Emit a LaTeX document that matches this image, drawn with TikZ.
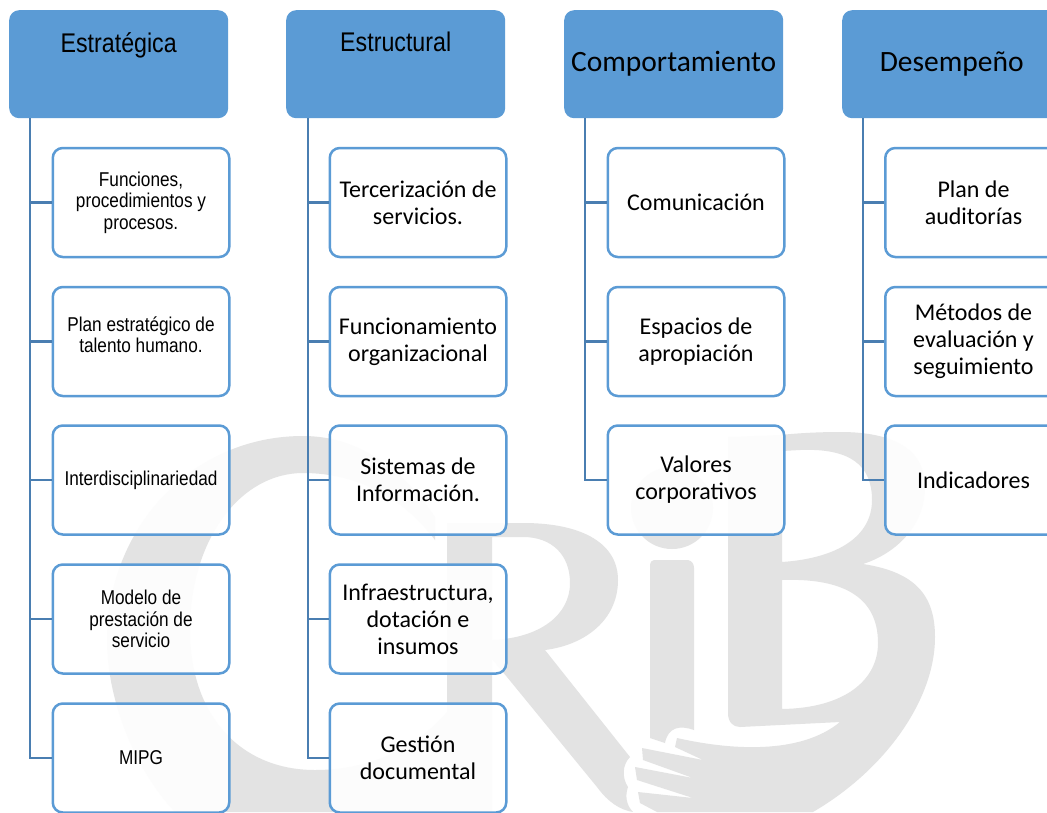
\documentclass[tikz,border=0pt]{standalone}
\usepackage{fontspec}
\setmainfont{Liberation Sans}
\newfontfamily\narrowf[FakeStretch=0.86]{Liberation Sans}
\newfontfamily\calibf{Carlito}
\definecolor{hdrblue}{HTML}{5B9BD5}
\definecolor{linkblue}{HTML}{4A7EB1}
\definecolor{wmgray}{HTML}{E3E3E3}
\newcommand{\lifted}[2]{\smash{\raisebox{#1}{#2}}}
\tikzset{
  hdrbox/.style={rectangle,rounded corners=10pt,fill=hdrblue,draw=none,minimum width=219pt,minimum height=108pt,inner sep=0pt,align=center,anchor=north west,text=black},
  kidbox/.style={rectangle,rounded corners=10pt,draw=hdrblue,line width=2.5pt,fill=white,fill opacity=.9,text opacity=1,minimum width=176.5pt,minimum height=109pt,inner sep=0pt,align=center,text=black},
  arialsmall/.style={font=\narrowf\fontsize{20}{21.5}\selectfont},
  calibsmall/.style={font=\calibf\fontsize{24}{27}\selectfont},
  arialbig/.style={font=\narrowf\fontsize{27}{30}\selectfont},
  calibbig/.style={font=\calibf\fontsize{29.5}{34}\selectfont},
  conn/.style={draw=linkblue,line width=2.5pt},
  wm/.style={fill=wmgray,even odd rule}
}
\begin{document}
\begin{tikzpicture}[x=1pt,y=-1pt]
\useasboundingbox (0,0) rectangle (1047,812);
\clip (0,0) rectangle (1047,812);
\fill[white] (0,0) rectangle (1047,812);
% watermark: C
\fill[wm] (435,517) .. controls (400,465) and (355,436) .. (303,436)
  .. controls (190,436) and (107,530) .. (107,640)
  .. controls (107,700) and (135,770) .. (175,812)
  -- (447,812) -- (447,712)
  .. controls (410,755) and (360,770) .. (315,770)
  .. controls (240,770) and (190,715) .. (190,630)
  .. controls (190,540) and (240,473) .. (303,473)
  .. controls (360,473) and (405,500) .. (435,540) -- cycle;
% watermark: R
\fill[wm] (447,523) -- (523,523)
  .. controls (585,523) and (618,545) .. (618,580)
  .. controls (618,620) and (585,645) .. (545,650)
  -- (630,757)
  .. controls (622,765) and (622,778) .. (628,787)
  .. controls (625,795) and (626,805) .. (633,812)
  .. controls (620,810) and (608,802) .. (597,787)
  -- (507,677) -- (492,659) -- (492,812) -- (447,812) -- cycle
  (492,537) -- (523,537)
  .. controls (552,537) and (570,555) .. (570,583)
  .. controls (570,615) and (540,638) .. (492,640) -- cycle;
% watermark: i
\fill[wm] (672,508) circle[radius=41pt];
\fill[wm] (654,560) -- (688,560) .. controls (692,561) and (694,564) .. (694,568) -- (694,730)
  .. controls (680,725) and (668,727) .. (665,743) -- (650,738) -- (650,566) .. controls (650,562) and (652,560) .. (654,560) -- cycle;
% watermark: B and hand
\fill[wm] (728,437) -- (780,435)
  .. controls (800,433) and (820,432) .. (840,432)
  .. controls (895,432) and (925,450) .. (925,487)
  .. controls (925,525) and (897,553) .. (863,564)
  .. controls (915,572) and (935,595) .. (935,637)
  .. controls (935,700) and (885,770) .. (813,812)
  -- (657,812) -- (640,803) -- (638,792) -- (693,798) -- (637,780) -- (635,767) -- (693,778) -- (643,760) -- (642,748) -- (703,760) -- (675,747) -- (677,738)
  .. controls (730,750) and (800,755) .. (840,722)
  -- (740,727) .. controls (733,727) and (728,722) .. (728,713) -- cycle
  (782,451) -- (800,450)
  .. controls (850,448) and (872,465) .. (872,500)
  .. controls (872,535) and (840,558) .. (782,562) -- cycle
  (782,580)
  .. controls (840,578) and (878,595) .. (878,643)
  .. controls (878,680) and (845,708) .. (782,709) -- cycle;
% headers
\node[hdrbox,arialbig] (h1) at (9,10) {\lifted{12pt}{Estratégica}};
\node[hdrbox,arialbig] (h2) at (286,10) {\lifted{13pt}{Estructural}};
\node[hdrbox,calibbig] (h3) at (564,10) {Comportamiento};
\node[hdrbox,calibbig] (h4) at (842,10) {Desempeño};
% trunk starts
\coordinate (t1) at (30,118);
\coordinate (t2) at (308,118);
\coordinate (t3) at (585,118);
\coordinate (t4) at (863,118);
% child boxes
\node[kidbox,arialsmall] (a1) at (141,202.5) {Funciones,\\procedimientos y\\procesos.};
\node[kidbox,arialsmall] (a2) at (141,341.5) {\lifted{-1pt}{Plan estratégico de}\\talento humano.};
\node[kidbox,arialsmall] (a3) at (141,480) {Interdisciplinariedad};
\node[kidbox,arialsmall] (a4) at (141,619) {Modelo de\\prestación de\\servicio};
\node[kidbox,arialsmall] (a5) at (141,758) {MIPG};
\node[kidbox,calibsmall] (b1) at (418,202.5) {Tercerización de\\servicios.};
\node[kidbox,calibsmall] (b2) at (418,341.5) {Funcionamiento\\organizacional};
\node[kidbox,calibsmall] (b3) at (418,480) {Sistemas de\\Información.};
\node[kidbox,calibsmall] (b4) at (418,619) {Infraestructura,\\dotación e\\insumos};
\node[kidbox,calibsmall] (b5) at (418,758) {Gestión\\documental};
\node[kidbox,calibsmall] (c1) at (696,202.5) {Comunicación};
\node[kidbox,calibsmall] (c2) at (696,341.5) {Espacios de\\apropiación};
\node[kidbox,calibsmall] (c3) at (696,480) {Valores\\corporativos};
\node[kidbox,calibsmall] (d1) at (973.5,202.5) {Plan de\\auditorías};
\node[kidbox,calibsmall] (d2) at (973.5,341.5) {Métodos de\\evaluación y\\seguimiento};
\node[kidbox,calibsmall] (d3) at (973.5,480) {Indicadores};
% connectors
\foreach \k in {a1,a2,a3,a4,a5} \draw[conn] (t1) |- (\k.west);
\foreach \k in {b1,b2,b3,b4,b5} \draw[conn] (t2) |- (\k.west);
\foreach \k in {c1,c2,c3} \draw[conn] (t3) |- (\k.west);
\foreach \k in {d1,d2,d3} \draw[conn] (t4) |- (\k.west);
\end{tikzpicture}
\end{document}
